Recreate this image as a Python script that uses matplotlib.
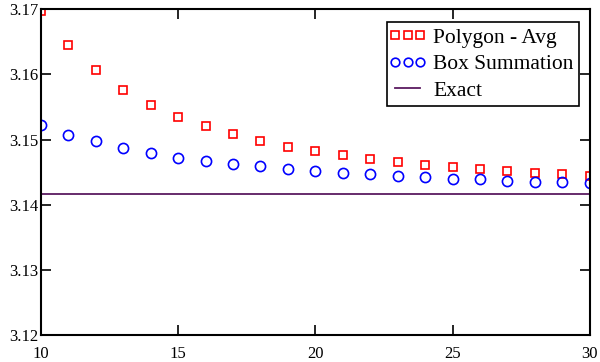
import matplotlib
matplotlib.use("Agg")
import matplotlib.pyplot as plt
from matplotlib.ticker import FormatStrFormatter
from matplotlib.legend_handler import HandlerLine2D
from matplotlib.lines import Line2D
import numpy as np

n_vals = list(range(10, 31))
polygon_avg = [3.16968, 3.16447, 3.16061, 3.15766, 3.15535, 3.15352, 3.15202,
               3.15081, 3.14977, 3.14892, 3.14819, 3.14757, 3.14703, 3.14656,
               3.14614, 3.14579, 3.14547, 3.14517, 3.14493, 3.14470, 3.14448]
box_sum = [3.1522, 3.1507, 3.1497, 3.1487, 3.1480, 3.1472, 3.1467, 3.1463,
           3.1459, 3.1455, 3.1452, 3.1449, 3.1447, 3.1444, 3.1442, 3.1440,
           3.1439, 3.1437, 3.1435, 3.1435, 3.1434]
exact_val = 3.14159265
x_ticks = [10, 15, 20, 25, 30]
y_ticks = [3.12, 3.13, 3.14, 3.15, 3.16, 3.17]

plt.rcParams['font.family'] = ['Liberation Serif', 'DejaVu Serif']

fig = plt.figure(figsize=(6.0, 3.62), dpi=100)
ax = fig.add_axes([0.068, 0.074, 0.915, 0.901])

ax.plot(n_vals, polygon_avg, linestyle='none', marker='s', markersize=6.3,
        markerfacecolor='none', markeredgecolor='#ff0000', markeredgewidth=1.2,
        label='Polygon - Avg')
ax.plot(n_vals, box_sum, linestyle='none', marker='o', markersize=7.3,
        markerfacecolor='none', markeredgecolor='#0000ff', markeredgewidth=1.2,
        label='Box Summation')
ax.plot([n_vals[0], n_vals[-1]], [exact_val, exact_val], color='#5a1a60',
        linewidth=1.3, label='Exact')

ax.set_xlim(10, 30)
ax.set_ylim(3.12, 3.17)
ax.set_xticks(x_ticks)
ax.set_yticks(y_ticks)
ax.yaxis.set_major_formatter(FormatStrFormatter('%.2f'))
ax.tick_params(direction='in', length=7, width=1.2, top=True, right=True,
               labelsize=12, colors='black')
ax.tick_params(axis='y', pad=2)
ax.tick_params(axis='x', pad=8)
for s in ax.spines.values():
    s.set_linewidth(1.5)
    s.set_color('black')

leg = ax.legend(loc='upper right', bbox_to_anchor=(0.980, 0.960), numpoints=3,
                fontsize=15.5, frameon=True, fancybox=False, framealpha=1,
                edgecolor='black', borderpad=0.25, labelspacing=0.3,
                handlelength=1.4, handletextpad=0.47, borderaxespad=0.0,
                markerscale=0.85,
                handler_map={Line2D: HandlerLine2D(marker_pad=0.12)})
leg.get_frame().set_linewidth(1.2)

fig.savefig('out.png', dpi=100)
